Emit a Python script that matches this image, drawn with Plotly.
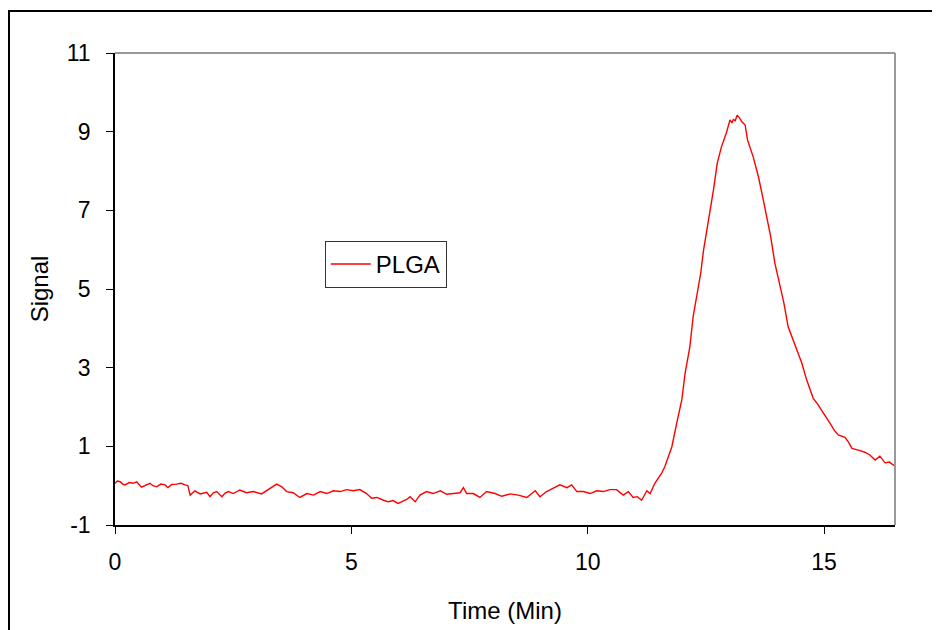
import plotly.graph_objects as go

# Readings of the PLGA trace (time in minutes, signal)
time_min = [0.00, 0.05, 0.11, 0.16, 0.21, 0.30, 0.38, 0.46, 0.56, 0.65, 0.74, 0.80, 0.88, 0.97,
            1.06, 1.12, 1.20, 1.30, 1.40, 1.48, 1.54, 1.59, 1.69, 1.80, 1.94, 2.01, 2.08, 2.15,
            2.26, 2.33, 2.40, 2.50, 2.64, 2.78, 2.93, 3.10, 3.24, 3.35, 3.42, 3.53, 3.63, 3.77,
            3.91, 4.06, 4.20, 4.34, 4.48, 4.62, 4.76, 4.90, 5.04, 5.18, 5.32, 5.43, 5.54, 5.68,
            5.78, 5.88, 5.99, 6.08, 6.17, 6.24, 6.35, 6.45, 6.59, 6.73, 6.88, 7.02, 7.19, 7.30,
            7.37, 7.44, 7.58, 7.72, 7.86, 8.04, 8.18, 8.36, 8.53, 8.71, 8.89, 8.99, 9.13, 9.27,
            9.41, 9.56, 9.66, 9.77, 9.91, 10.05, 10.19, 10.33, 10.47, 10.61, 10.75, 10.86, 10.96,
            11.05, 11.14, 11.25, 11.32, 11.42, 11.49, 11.56, 11.63, 11.70, 11.78, 11.88, 11.99,
            12.06, 12.16, 12.23, 12.32, 12.39, 12.45, 12.55, 12.66, 12.74, 12.83, 12.93, 13.01,
            13.05, 13.08, 13.12, 13.16, 13.21, 13.26, 13.33, 13.38, 13.50, 13.61, 13.70, 13.79,
            13.87, 13.96, 14.07, 14.15, 14.24, 14.39, 14.53, 14.63, 14.77, 14.86, 14.95, 15.04,
            15.13, 15.22, 15.30, 15.44, 15.52, 15.59, 15.67, 15.76, 15.86, 15.97, 16.08, 16.18,
            16.29, 16.38, 16.47, 16.55, 16.61]
signal = [0.06, 0.12, 0.10, 0.04, 0.02, 0.08, 0.06, 0.10, -0.04, 0.02, 0.06, 0.00, -0.03, 0.04,
          0.02, -0.05, 0.03, 0.04, 0.06, 0.02, 0.00, -0.24, -0.13, -0.21, -0.17, -0.28, -0.18, -0.15,
          -0.28, -0.19, -0.15, -0.20, -0.11, -0.18, -0.15, -0.21, -0.11, -0.02, 0.04, -0.03, -0.15, -0.18,
          -0.30, -0.20, -0.24, -0.15, -0.20, -0.13, -0.15, -0.10, -0.13, -0.10, -0.20, -0.32, -0.30, -0.37,
          -0.41, -0.38, -0.45, -0.40, -0.35, -0.28, -0.41, -0.24, -0.15, -0.20, -0.13, -0.22, -0.20, -0.18,
          -0.05, -0.20, -0.20, -0.30, -0.15, -0.20, -0.27, -0.21, -0.24, -0.30, -0.13, -0.28, -0.15, -0.07,
          0.02, -0.05, 0.02, -0.15, -0.15, -0.20, -0.13, -0.15, -0.10, -0.10, -0.24, -0.15, -0.30,
          -0.28, -0.37, -0.13, -0.20, 0.06, 0.19, 0.31, 0.48, 0.70, 0.99, 1.58, 2.18,
          2.86, 3.53, 4.30, 4.89, 5.40, 5.99, 6.67, 7.52, 8.20, 8.62, 8.96, 9.30,
          9.22, 9.31, 9.28, 9.42, 9.35, 9.25, 9.17, 8.79, 8.36, 7.86, 7.35, 6.84,
          6.33, 5.65, 5.06, 4.64, 4.04, 3.58, 3.11, 2.69, 2.22, 2.08, 1.92, 1.75,
          1.58, 1.40, 1.29, 1.23, 1.10, 0.95, 0.93, 0.89, 0.85, 0.78, 0.65, 0.75,
          0.58, 0.60, 0.52, 0.58, 0.61]

series_name = "PLGA"
x_ticks = [0, 5, 10, 15]
x_tick_labels = ["0", "5", "10", "15"]
y_ticks = [-1, 1, 3, 5, 7, 9, 11]
y_tick_labels = ["-1", "1", "3", "5", "7", "9", "11"]

font_family = "Liberation Sans, Arial, sans-serif"

fig = go.Figure()
fig.add_trace(go.Scatter(
    x=time_min, y=signal, mode="lines", name=series_name,
    line=dict(color="#ff0000", width=1.4),
))

# page body adds an 8px offset, so the figure is sized to fit the 940x630 window
fig.update_layout(
    width=932, height=622,
    margin=dict(l=107, r=45, t=45, b=105),
    paper_bgcolor="white", plot_bgcolor="white",
    font=dict(family=font_family, size=23, color="black"),
    showlegend=True,
    legend=dict(
        x=0.269, y=0.602, xanchor="left", yanchor="top",
        bordercolor="#333333", borderwidth=1, bgcolor="white",
        font=dict(size=24, family=font_family),
        itemwidth=40,
    ),
    xaxis=dict(
        range=[0, 16.5], tickvals=x_ticks, ticktext=x_tick_labels,
        ticks="outside", ticklen=7, automargin=False,
        tickcolor="black", tickwidth=1, showline=True, linecolor="black",
        linewidth=1.5, showgrid=False, zeroline=False,
        tickfont=dict(size=23),
        title=dict(text="Time (Min)", font=dict(size=24), standoff=28),
        ticklabelstandoff=9,
    ),
    yaxis=dict(
        range=[-1, 11], tickvals=y_ticks, ticktext=y_tick_labels,
        ticks="outside", ticklen=7, automargin=False,
        tickcolor="black", tickwidth=1, showline=True, linecolor="black",
        linewidth=1.5, showgrid=False, zeroline=False,
        tickfont=dict(size=23),
        title=dict(text="Signal", font=dict(size=24), standoff=11),
        ticklabelstandoff=11,
    ),
    shapes=[
        # gray top and right plot border
        dict(type="line", xref="paper", yref="paper", x0=0, y0=1, x1=1, y1=1,
             line=dict(color="#999999", width=2)),
        dict(type="line", xref="paper", yref="paper", x0=1, y0=0, x1=1, y1=1,
             line=dict(color="#999999", width=2)),
        # outer frame
        dict(type="rect", xref="paper", yref="paper",
             x0=(9 - 115) / 780, y0=(525 - 11) / 472, x1=(945 - 115) / 780, y1=(525 - 640) / 472,
             line=dict(color="black", width=2), layer="below"),
    ],
)

fig.write_html("out.html")
